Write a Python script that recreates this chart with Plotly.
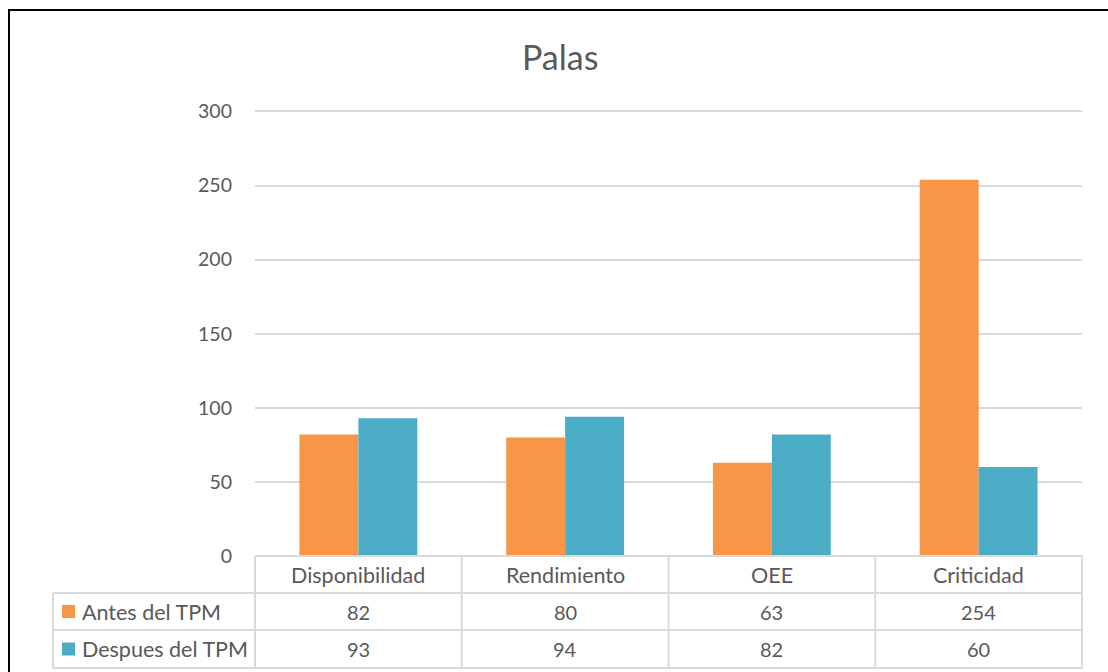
import plotly.graph_objects as go

# Chart data
categories = ["Disponibilidad", "Rendimiento", "OEE", "Criticidad"]
series_names = ["Antes del TPM", "Despues del TPM"]
antes = [82, 80, 63, 254]
despues = [93, 94, 82, 60]
series_values = [antes, despues]
series_colors = ["#F79646", "#4BACC6"]

W, H = 1108, 672
ML, MR, MT, MB = 255, 26, 110, 116
PW, PH = W - ML - MR, H - MT - MB
FONT = "Lato, 'Open Sans', sans-serif"
TXT = "#595959"
GRID = "#D9D9D9"
TEXT_SIZE = 21.5
NUM_SIZE = 20


def px(xp):
    return (xp - ML) / PW


def py(yp):
    return (H - MB - yp) / PH


fig = go.Figure()
for name, vals, col in zip(series_names, series_values, series_colors):
    fig.add_trace(go.Bar(x=categories, y=vals, name=name,
                         marker=dict(color=col, line=dict(width=0))))

shapes = []
annotations = []

# Data table below the plot area
col_w = PW / len(categories)
row_tops = [556, 593, 630, 668]
line = dict(color=GRID, width=2)
# horizontal lines
shapes.append(dict(type="line", xref="paper", yref="paper",
                   x0=px(ML), x1=px(W - MR), y0=py(row_tops[0]), y1=py(row_tops[0]), line=line))
for yy in row_tops[1:]:
    shapes.append(dict(type="line", xref="paper", yref="paper",
                       x0=px(53), x1=px(W - MR), y0=py(yy), y1=py(yy), line=line))
# vertical lines
for i in range(len(categories) + 1):
    xx = ML + i * col_w
    shapes.append(dict(type="line", xref="paper", yref="paper",
                       x0=px(xx), x1=px(xx), y0=py(row_tops[0]), y1=py(row_tops[-1]), line=line))
shapes.append(dict(type="line", xref="paper", yref="paper",
                   x0=px(53), x1=px(53), y0=py(row_tops[1]), y1=py(row_tops[-1]), line=line))

# header row: category names
for i, cat in enumerate(categories):
    annotations.append(dict(text=cat, xref="paper", yref="paper",
                            x=px(ML + (i + 0.5) * col_w), y=py((row_tops[0] + row_tops[1]) / 2),
                            showarrow=False, font=dict(family=FONT, size=TEXT_SIZE, color=TXT),
                            xanchor="center", yanchor="middle"))
# series rows
for r, (name, vals, col) in enumerate(zip(series_names, series_values, series_colors)):
    yc = (row_tops[r + 1] + row_tops[r + 2]) / 2
    shapes.append(dict(type="rect", xref="paper", yref="paper",
                       x0=px(62), x1=px(75), y0=py(yc - 6.5), y1=py(yc + 6.5),
                       fillcolor=col, line=dict(width=0)))
    annotations.append(dict(text=name, xref="paper", yref="paper",
                            x=px(80), y=py(yc), showarrow=False,
                            font=dict(family=FONT, size=TEXT_SIZE, color=TXT),
                            xanchor="left", yanchor="middle"))
    for i, v in enumerate(vals):
        annotations.append(dict(text=str(v), xref="paper", yref="paper",
                                x=px(ML + (i + 0.5) * col_w), y=py(yc), showarrow=False,
                                font=dict(family=FONT, size=NUM_SIZE, color=TXT),
                                xanchor="center", yanchor="middle"))

# Title
annotations.append(dict(text="Palas", xref="paper", yref="paper",
                        x=px(560), y=py(56), showarrow=False,
                        font=dict(family=FONT, size=34, color=TXT),
                        xanchor="center", yanchor="middle"))

# Outer chart border (left and top edges visible)
shapes.append(dict(type="line", xref="paper", yref="paper",
                   x0=px(9), x1=px(9), y0=py(H + 5), y1=py(10),
                   line=dict(color="black", width=2)))
shapes.append(dict(type="line", xref="paper", yref="paper",
                   x0=px(8), x1=px(W + 5), y0=py(10), y1=py(10),
                   line=dict(color="black", width=2)))

fig.update_layout(
    width=W, height=H,
    margin=dict(l=ML, r=MR, t=MT, b=MB),
    paper_bgcolor="white", plot_bgcolor="white",
    barmode="group", bargap=0.43, bargroupgap=0,
    showlegend=False,
    font=dict(family=FONT, color=TXT),
    shapes=shapes, annotations=annotations,
    xaxis=dict(showticklabels=False, showgrid=False, zeroline=False,
               showline=False, ticks=""),
    yaxis=dict(range=[0, 301], dtick=50, showgrid=True, gridcolor=GRID, gridwidth=1.5,
               zeroline=False, showline=False, ticks="",
               tickfont=dict(family=FONT, size=19.5, color=TXT),
               ticklabelstandoff=22),
)

fig.write_html("out.html")
